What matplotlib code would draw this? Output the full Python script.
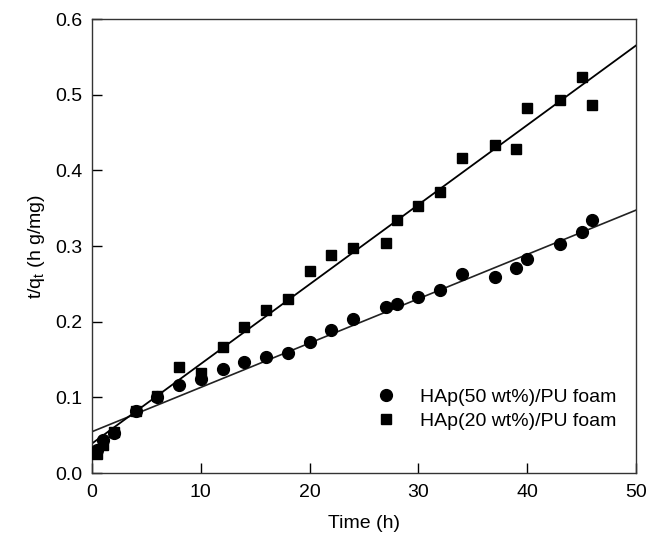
import matplotlib
matplotlib.use("Agg")
import matplotlib.pyplot as plt
import numpy as np

plt.rcParams['font.family'] = ['Liberation Sans', 'DejaVu Sans']
plt.rcParams['mathtext.fontset'] = 'custom'
plt.rcParams['mathtext.rm'] = 'Liberation Sans'

# HAp(50 wt%)/PU foam (circles)
t50 = [0.5, 1, 2, 4, 6, 8, 10, 12, 14, 16, 18, 20, 22, 24, 27, 28, 30, 32, 34, 37, 39, 40, 43, 45, 46]
y50 = [0.030, 0.044, 0.053, 0.082, 0.100, 0.116, 0.124, 0.138, 0.147, 0.153, 0.159, 0.1735, 0.189,
       0.203, 0.2197, 0.223, 0.233, 0.2417, 0.2625, 0.2593, 0.271, 0.283, 0.302, 0.318, 0.334]

# HAp(20 wt%)/PU foam (squares)
t20 = [0.5, 1, 2, 4, 6, 8, 10, 12, 14, 16, 18, 20, 22, 24, 27, 28, 30, 32, 34, 37, 39, 40, 43, 45, 46]
y20 = [0.025, 0.037, 0.0546, 0.082, 0.1017, 0.140, 0.1317, 0.167, 0.1925, 0.215, 0.2295, 0.267, 0.288,
       0.2968, 0.3034, 0.334, 0.3527, 0.371, 0.4165, 0.434, 0.4276, 0.483, 0.4927, 0.5235, 0.487]

# linear fits: [intercept, slope]
fit50 = [0.0546, 0.005856]
fit20 = [0.039, 0.01052]

xticks = [0, 10, 20, 30, 40, 50]
yticks = [0.0, 0.1, 0.2, 0.3, 0.4, 0.5, 0.6]

FS = 14

fig = plt.figure(figsize=(6.6, 5.45), dpi=100)
ax = fig.add_axes([0.1394, 0.1321, 0.8242, 0.833])

xl = np.array([0, 50])
ax.plot(xl, fit50[0] + fit50[1] * xl, color='#222222', lw=1.2, zorder=2)
ax.plot(xl, fit20[0] + fit20[1] * xl, color='black', lw=1.3, zorder=2)

ax.plot(t50, y50, 'o', color='black', ms=8.5, mec='black', label='HAp(50 wt%)/PU foam', zorder=3)
ax.plot(t20, y20, 's', color='black', ms=7.8, mec='black', label='HAp(20 wt%)/PU foam', zorder=3)

ax.set_xlim(0, 50)
ax.set_ylim(0, 0.6)
ax.set_xticks(xticks)
ax.set_yticks(yticks)
ax.set_xticklabels([str(v) for v in xticks])
ax.set_yticklabels([f"{v:.1f}" for v in yticks])
ax.tick_params(direction='in', length=7, width=1, labelsize=FS, pad=7, colors='black')
ax.tick_params(axis='x', pad=8)
for s in ax.spines.values():
    s.set_linewidth(1.0)
    s.set_color('#333333')

ax.set_xlabel('Time (h)', fontsize=FS, labelpad=10)
ax.set_ylabel(r't/q$_\mathregular{t}$ (h g/mg)', fontsize=FS, labelpad=6)

leg = ax.legend(loc='center left', bbox_to_anchor=(0.522, 0.141), frameon=False, fontsize=FS,
                handlelength=1.0, handletextpad=1.27, labelspacing=0.33, borderaxespad=0,
                borderpad=0)

fig.savefig('out.png', dpi=100)
